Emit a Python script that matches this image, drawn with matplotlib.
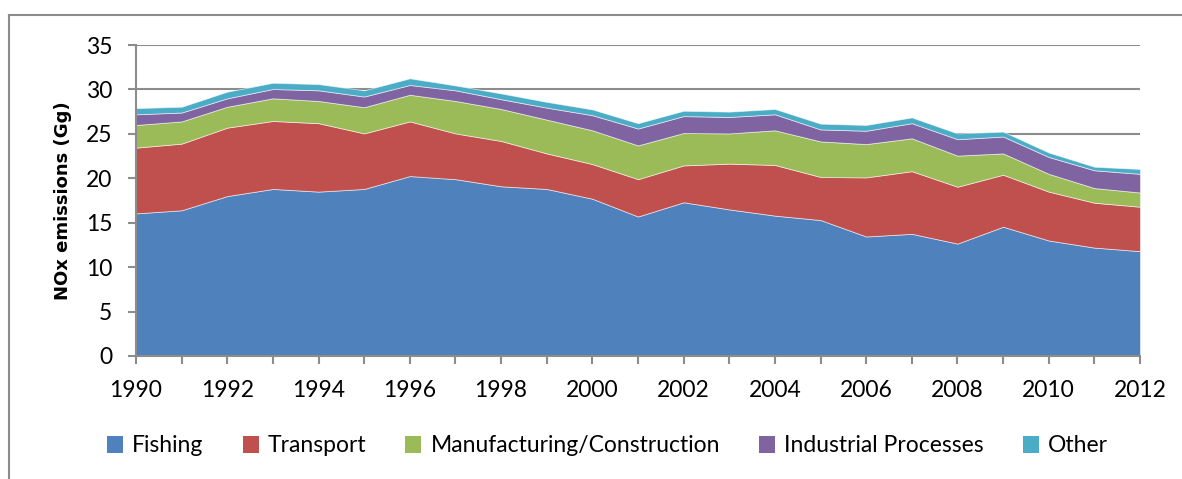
import matplotlib
matplotlib.use("Agg")
import matplotlib.pyplot as plt
from matplotlib.patches import Patch
from matplotlib.lines import Line2D

years = list(range(1990, 2013))
fishing = [16.05, 16.4, 18.0, 18.8, 18.5, 18.8, 20.25, 19.9, 19.1, 18.8, 17.7, 15.7,
           17.3, 16.5, 15.8, 15.3, 13.45, 13.75, 12.65, 14.55, 13.0, 12.2, 11.8]
transport = [7.4, 7.5, 7.7, 7.65, 7.7, 6.25, 6.15, 5.15, 5.1, 4.0, 3.9, 4.2,
             4.15, 5.15, 5.7, 4.85, 6.65, 7.05, 6.4, 5.85, 5.5, 5.05, 5.0]
manufacturing = [2.55, 2.5, 2.35, 2.55, 2.5, 2.95, 3.0, 3.65, 3.6, 3.8, 3.8, 3.8,
                 3.65, 3.4, 3.9, 4.0, 3.75, 3.7, 3.5, 2.4, 2.0, 1.65, 1.6]
industrial = [1.2, 1.0, 0.95, 1.05, 1.2, 1.2, 1.1, 1.2, 1.1, 1.35, 1.7, 1.9,
              1.9, 1.85, 1.8, 1.35, 1.5, 1.7, 1.85, 1.9, 1.9, 2.0, 2.1]
other = [0.7, 0.65, 0.75, 0.7, 0.7, 0.7, 0.75, 0.55, 0.65, 0.65, 0.65, 0.6,
         0.6, 0.6, 0.6, 0.65, 0.65, 0.65, 0.65, 0.55, 0.5, 0.4, 0.55]
series_names = ["Fishing", "Transport", "Manufacturing/Construction",
                "Industrial Processes", "Other"]
colors = ["#4F81BD", "#C0504D", "#9BBB59", "#8064A2", "#4BACC6"]
yticks = [0, 5, 10, 15, 20, 25, 30, 35]
xticklabels_years = list(range(1990, 2013, 2))

plt.rcParams['font.family'] = ['Lato', 'DejaVu Sans']

W, H = 1182, 479
fig = plt.figure(figsize=(W / 100, H / 100), dpi=100)
ax = fig.add_axes([136 / W, 1 - 356 / H, (1140 - 136) / W, (356 - 45) / H])

ax.stackplot(years, fishing, transport, manufacturing, industrial, other,
             colors=colors, edgecolor=(1, 1, 1, 0.6), linewidth=0.6, zorder=2)

ax.set_xlim(1990, 2012)
ax.set_ylim(0, 35)
ax.set_yticks(yticks)
ax.set_xticks(years, minor=False)
ax.set_xticklabels([str(y) if y in xticklabels_years else "" for y in years])
ax.yaxis.grid(True, color="#8C8C8C", linewidth=1.5, zorder=1)
ax.set_axisbelow(True)
for s in ["top", "right"]:
    ax.spines[s].set_visible(False)
for s in ["left", "bottom"]:
    ax.spines[s].set_color("#8C8C8C")
    ax.spines[s].set_linewidth(1.5)
    ax.spines[s].set_zorder(3)
ax.tick_params(axis="both", colors="#8C8C8C", width=1.5, length=6,
               labelcolor="black", labelsize=16.5)
ax.tick_params(axis="y", pad=11)
ax.tick_params(axis="x", pad=11)
ax.set_ylabel("NOx emissions (Gg)", fontsize=13, fontweight="bold",
              family=['DejaVu Sans'], labelpad=10)

handles = [Patch(facecolor=c, edgecolor="none") for c in colors]
fig.legend(handles, series_names, loc="center", bbox_to_anchor=(0.514, 1 - 446 / H),
           ncol=5, frameon=False, fontsize=16.5, handlelength=0.7, handleheight=0.7,
           handletextpad=0.4, columnspacing=1.7)

# outer frame lines
fig.add_artist(Line2D([9 / W, 1.0], [1 - 15 / H, 1 - 15 / H], color="#8C8C8C",
                      linewidth=1.5, transform=fig.transFigure))
fig.add_artist(Line2D([9 / W, 9 / W], [0, 1 - 15 / H], color="#8C8C8C",
                      linewidth=1.5, transform=fig.transFigure))

fig.savefig("out.png", dpi=100)
